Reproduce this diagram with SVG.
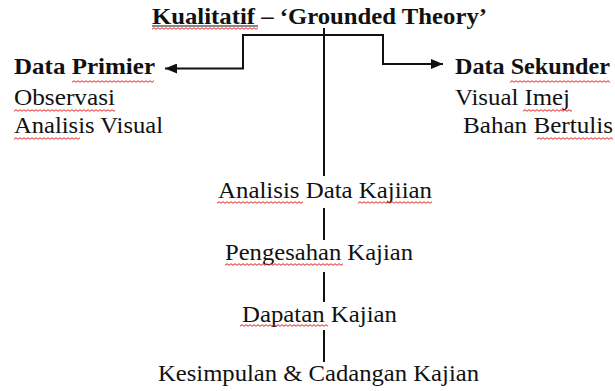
<svg xmlns="http://www.w3.org/2000/svg" width="615" height="391" viewBox="0 0 615 391">
<style>
text{font-family:"Liberation Serif","Times New Roman",serif;font-size:22.5px;fill:#111}
.b{font-weight:bold}
.ln{fill:none;stroke:#111;stroke-width:2}
.sq{fill:url(#sq)}
</style>
<defs>
<pattern id="sq" patternUnits="userSpaceOnUse" width="4" height="3">
<path d="M0,2.3 L2,0.7 L4,2.3" fill="none" stroke="#e02020" stroke-width="1"/>
</pattern>
<marker id="ah" markerUnits="userSpaceOnUse" markerWidth="12" markerHeight="10" refX="12" refY="5" orient="auto-start-reverse">
<path d="M0,0 L12,5 L0,10 z" fill="#111"/>
</marker>
</defs>
<rect width="615" height="391" fill="#fff"/>
<g id="connectors">
<path class="ln" d="M165,68.5 H243 V35 H383 V64 H443" marker-start="url(#ah)" marker-end="url(#ah)"/>
<path class="ln" d="M324,28 V176 M324,208 V240 M324,272 V302 M324,330 V362"/>
</g>
<g id="title">
<text class="b" x="152" y="24" textLength="335" lengthAdjust="spacingAndGlyphs">Kualitatif – ‘Grounded Theory’</text>
<line x1="152" y1="26" x2="258" y2="26" stroke="#111" stroke-width="1"/>
<rect class="sq" transform="translate(152,27)" width="106" height="3"/>
</g>
<g id="data-primier">
<text class="b" x="14" y="74" textLength="141" lengthAdjust="spacingAndGlyphs">Data Primier</text>
<text x="14" y="105" textLength="101" lengthAdjust="spacingAndGlyphs">Observasi</text>
<text x="14" y="133" textLength="149" lengthAdjust="spacingAndGlyphs">Analisis Visual</text>
<rect class="sq" transform="translate(72,80)" width="82" height="3"/>
<rect class="sq" transform="translate(14,109)" width="101" height="3"/>
<rect class="sq" transform="translate(14,137)" width="66" height="3"/>
</g>
<g id="data-sekunder">
<text class="b" x="455" y="74" textLength="155" lengthAdjust="spacingAndGlyphs">Data Sekunder</text>
<text x="455" y="105" textLength="115" lengthAdjust="spacingAndGlyphs">Visual Imej</text>
<text x="463" y="133" textLength="150" lengthAdjust="spacingAndGlyphs">Bahan Bertulis</text>
<rect class="sq" transform="translate(510,80)" width="100" height="3"/>
<rect class="sq" transform="translate(523,109)" width="49" height="3"/>
<rect class="sq" transform="translate(537,137)" width="76" height="3"/>
</g>
<g id="analisis">
<text x="218" y="198" textLength="214" lengthAdjust="spacingAndGlyphs">Analisis Data Kajiian</text>
<rect class="sq" transform="translate(217,201)" width="86" height="3"/>
<rect class="sq" transform="translate(358,201)" width="74" height="3"/>
</g>
<g id="pengesahan">
<text x="225" y="260" textLength="188" lengthAdjust="spacingAndGlyphs">Pengesahan Kajian</text>
<rect class="sq" transform="translate(225,263)" width="118" height="3"/>
</g>
<g id="dapatan">
<text x="242" y="322" textLength="155" lengthAdjust="spacingAndGlyphs">Dapatan Kajian</text>
<rect class="sq" transform="translate(240,324)" width="88" height="3"/>
</g>
<g id="kesimpulan">
<text x="158" y="381" textLength="321" lengthAdjust="spacingAndGlyphs">Kesimpulan &amp; Cadangan Kajian</text>
</g>
</svg>
